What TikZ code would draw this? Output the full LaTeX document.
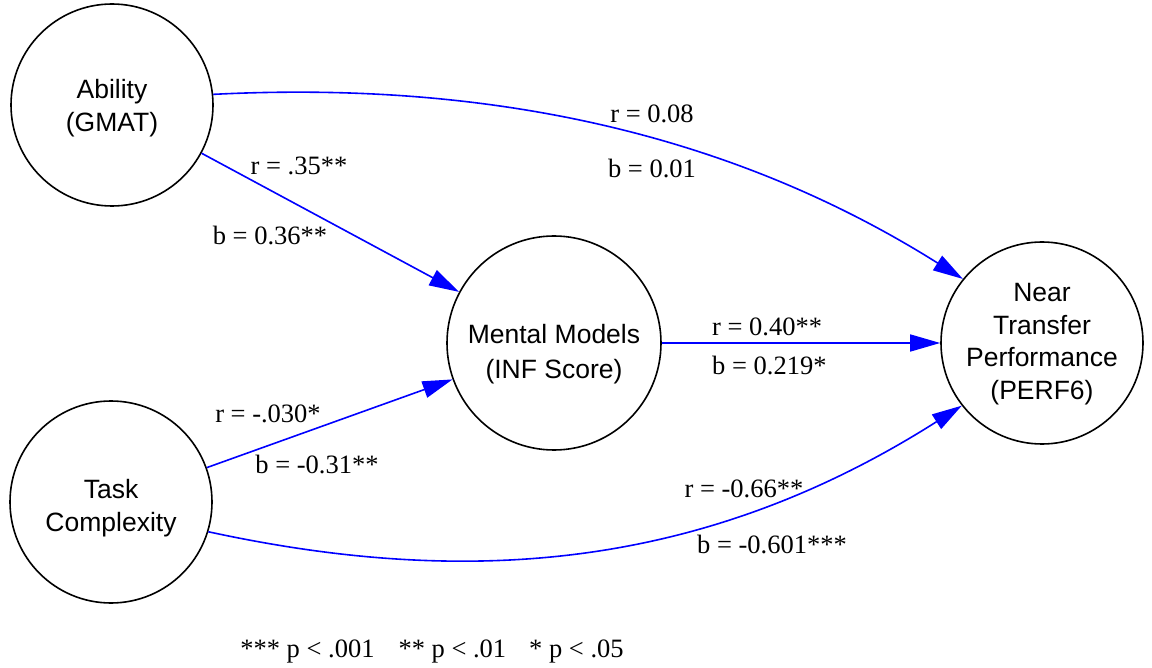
\documentclass[tikz,border=0pt]{standalone}
\usepackage{fontspec}
\setmainfont{Liberation Serif}
\newfontfamily\arialf{Liberation Sans}
\usetikzlibrary{arrows.meta}
\begin{document}
\begin{tikzpicture}[x=1pt,y=-1pt,
  latent/.style={circle,draw=black,line width=1.6pt,inner sep=0pt},
  ltext/.style={inner sep=0pt,align=center,
    font=\arialf\fontsize{26.5}{32.5}\selectfont},
  path/.style={draw=blue,line width=1.6pt,-{Triangle[length=30pt,width=17pt]}},
  lbl/.style={font=\fontsize{26.5}{30}\selectfont,inner sep=0pt,anchor=base}]
\useasboundingbox (0,0) rectangle (1152,668);
\node[latent,minimum size=202pt] (abil) at (112,105) {};
\node[latent,minimum size=202pt] (task) at (111,502) {};
\node[latent,minimum size=214pt] (ment) at (554,343) {};
\node[latent,minimum size=202pt] (near) at (1042,343) {};
\node[ltext] (abilT) at (112,108) {Ability\\(GMAT)};
\node[ltext] (taskT) at (111,508) {Task\\Complexity};
\node[ltext,font=\arialf\fontsize{26.5}{35}\selectfont] (mentT) at (554,354) {Mental Models\\(INF Score)};
\node[ltext] (nearT) at (1042,344) {Near\\Transfer\\Performance\\(PERF6)};
\draw[path] (abil) -- (ment);
\draw[path] (task) -- (ment);
\draw[path] (ment) -- (near);
\draw[path] (abil.6) .. controls (514,79) and (750,145) .. (near.141);
\draw[path] (task.-17) .. controls (463,587) and (700,572) .. (near.218);
\node[lbl] (l1) at (299,175) {r = .35**};
\node[lbl] (l2) at (270,245) {b = 0.36**};
\node[lbl] (l3) at (268,422) {r = -.030*};
\node[lbl] (l4) at (317,473) {b = -0.31**};
\node[lbl] (l5) at (652,123) {r = 0.08};
\node[lbl] (l6) at (652,178) {b = 0.01};
\node[lbl,anchor=base west] (l7) at (712,336) {r = 0.40**};
\node[lbl,anchor=base west] (l8) at (712,375) {b = 0.219*};
\node[lbl] (l9) at (744,497) {r = -0.66**};
\node[lbl] (l10) at (772,553) {b = -0.601***};
\node[lbl] (note) at (432,657) {*** p < .001\hspace{24pt}** p < .01\hspace{23pt}* p < .05};
\end{tikzpicture}
\end{document}
